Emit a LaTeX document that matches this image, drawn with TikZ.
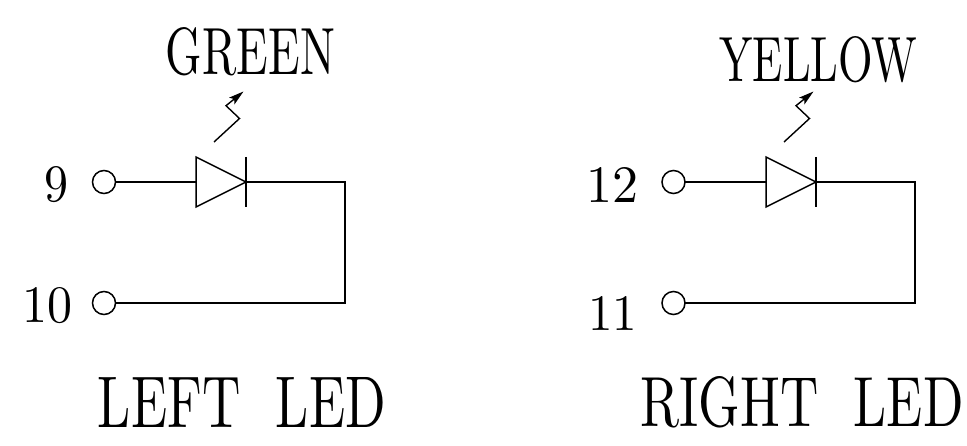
\documentclass[tikz,border=0pt]{standalone}
\usepackage{graphicx}
\usepackage{fontspec}
\usetikzlibrary{arrows.meta}
\tikzset{
  wire/.style={line width=1.5pt,line join=miter},
  term/.style={circle,draw,line width=1.5pt,minimum size=23pt,inner sep=0pt,outer sep=0pt},
  lbl/.style={inner sep=0pt,outer sep=0pt,anchor=center},
  ray/.style={line width=1.4pt,-{Stealth[length=15pt,width=8.5pt,inset=3pt]}}
}
\newcommand{\fit}[3]{\resizebox{#1pt}{#2pt}{#3}}
\newcommand{\spaced}[1]{{\addfontfeatures{LetterSpace=18}#1}}
\newcommand{\ledcell}[5]{% #1 name, #2 x of terminal, #3 x of diode left, #4 x of wire right, #5 y of lower wire
  \node[term] (#1a) at (#2,182) {};
  \node[term] (#1b) at (#2,#5) {};
  \coordinate (#1tl) at (#3,157);
  \coordinate (#1bl) at (#3,207);
  \coordinate (#1ml) at (#3,182);
  \coordinate (#1mr) at (#3+50,182);
  \coordinate (#1bt) at (#3+50,157);
  \coordinate (#1bb) at (#3+50,207);
  \coordinate (#1c1) at (#4,182);
  \coordinate (#1c2) at (#4,#5);
  \draw[wire] (#1a) -- (#1ml);
  \draw[wire] (#1tl) -- (#1mr) -- (#1bl) -- cycle;
  \draw[wire] (#1bt) -- (#1bb);
  \draw[wire] (#1mr) -- (#1c1) -- (#1c2) -- (#1b);
  \coordinate (#1r0) at (#3+18,142);
  \coordinate (#1r1) at (#3+43.5,118.5);
  \coordinate (#1r2) at (#3+30,105.7);
  \coordinate (#1r3) at (#3+47.5,91.5);
  \draw[ray] (#1r0) -- (#1r1) -- (#1r2) -- (#1r3);
}
\begin{document}
\begin{tikzpicture}[x=1pt,y=-1pt]
\useasboundingbox (0,0) rectangle (967,446);
\ledcell{l}{104}{196}{345}{303}
\ledcell{r}{673.5}{766}{915}{303}
\node[lbl] (green) at (250.5,51.5) {\fit{169}{47}{\spaced{GREEN}}};
\node[lbl] (yellow) at (818.5,60) {\fit{198}{45}{\spaced{YELLOW}}};
\node[lbl] (leftled) at (242,402) {\fit{288}{50}{\spaced{LEFT\ \ LED}}};
\node[lbl] (rightled) at (802,402) {\fit{323}{50}{\spaced{RIGHT\ \ LED}}};
\node[lbl] (n9) at (56.5,184.5) {\fit{24}{35}{9}};
\node[lbl] (n10) at (48,306) {\fit{50}{35}{10}};
\node[lbl] (n12) at (612,184.5) {\fit{52}{35}{12}};
\node[lbl] (n11) at (612.5,313) {\fit{49}{34}{11}};
\end{tikzpicture}
\end{document}
